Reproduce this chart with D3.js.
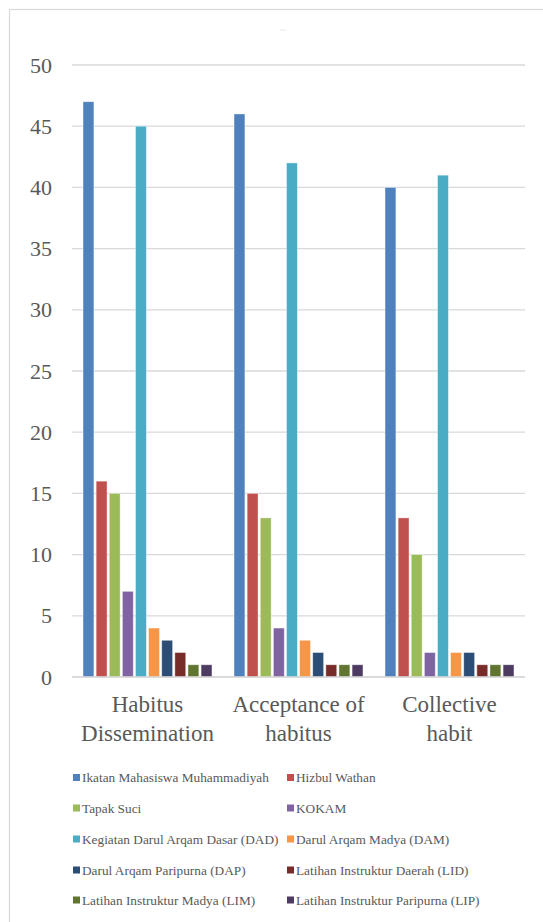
<!DOCTYPE html>
<html><head><meta charset="utf-8">
<script src="https://cdn.jsdelivr.net/npm/d3@7"></script>
<style>html,body{margin:0;padding:0;background:#fff;overflow:hidden}
svg text{font-family:"Liberation Serif","Times New Roman",Times,"DejaVu Serif",serif;}</style>
</head><body>
<svg id="c" width="543" height="922"></svg>
<script>
const categories = [["Habitus","Dissemination"],["Acceptance of","habitus"],["Collective","habit"]];
const seriesNames = ["Ikatan Mahasiswa Muhammadiyah","Hizbul Wathan","Tapak Suci","KOKAM","Kegiatan Darul Arqam Dasar (DAD)","Darul Arqam Madya (DAM)","Darul Arqam Paripurna (DAP)","Latihan Instruktur Daerah (LID)","Latihan Instruktur Madya (LIM)","Latihan Instruktur Paripurna (LIP)"];
const habitusDissemination = [47,16,15,7,45,4,3,2,1,1];
const acceptanceOfHabitus = [46,15,13,4,42,3,2,1,1,1];
const collectiveHabit = [40,13,10,2,41,2,2,1,1,1];
const yTicks = [0,5,10,15,20,25,30,35,40,45,50];
const colors = ["#4F81BD","#C0504D","#9BBB59","#8064A2","#4BACC6","#F79646","#2C4D75","#772C2A","#5F7530","#4D3B62"];

const values = [habitusDissemination, acceptanceOfHabitus, collectiveHabit];
const svg = d3.select("#c");
const textColor = "#595959";

// outer border
svg.append("rect").attr("x",9.5).attr("y",9.5).attr("width",600).attr("height",1000)
  .attr("fill","none").attr("stroke","#d9d9d9").attr("stroke-width",1.2);

// tiny title
svg.append("text").attr("x",283).attr("y",32).attr("text-anchor","middle")
  .attr("font-size",4).attr("fill","#888").text("~~~");

const plotLeft = 72, plotRight = 525, plotTop = 65, plotBottom = 677;
const y = d3.scaleLinear().domain([0,50]).range([plotBottom, plotTop]);
const x0 = d3.scaleBand().domain(d3.range(categories.length)).range([plotLeft,plotRight]).paddingInner(0.146).paddingOuter(0.073);
const x1 = d3.scaleBand().domain(d3.range(seriesNames.length)).range([0,x0.bandwidth()]).paddingInner(0.17).paddingOuter(0);

// gridlines
svg.append("g").selectAll("line").data(yTicks).join("line")
  .attr("x1",plotLeft).attr("x2",plotRight).attr("y1",d=>y(d)).attr("y2",d=>y(d))
  .attr("stroke","#d9d9d9").attr("stroke-width",1.3);

// y labels
svg.append("g").selectAll("text").data(yTicks).join("text")
  .attr("x",52).attr("y",d=>y(d)+7.5).attr("text-anchor","end")
  .attr("font-size",22).attr("fill",textColor).text(d=>d);

// bars
const groups = svg.append("g").selectAll("g").data(values).join("g")
  .attr("transform",(d,i)=>`translate(${x0(i)},0)`);
groups.selectAll("rect").data(d=>d).join("rect")
  .attr("x",(d,j)=>x1(j)).attr("width",x1.bandwidth())
  .attr("y",d=>y(d)).attr("height",d=>y(0)-y(d))
  .attr("fill",(d,j)=>colors[j]).attr("stroke","#ffffff").attr("stroke-opacity",0.5).attr("stroke-width",0.8);

// axis line
svg.append("line").attr("x1",plotLeft).attr("x2",plotRight).attr("y1",plotBottom).attr("y2",plotBottom)
  .attr("stroke","#d9d9d9").attr("stroke-width",1.3);

// category labels
const cl = svg.append("g").selectAll("text").data(categories).join("text")
  .attr("text-anchor","middle").attr("font-size",23).attr("fill",textColor);
cl.each(function(d,i){
  const t = d3.select(this);
  const cx = x0(i)+x0.bandwidth()/2;
  d.forEach((line,k)=>{
    t.append("tspan").attr("x",cx).attr("y",712+k*29).text(line);
  });
});

// legend
const legend = svg.append("g");
const colX = [73, 287];
const rowY = [777.5, 808, 839, 870, 900];
seriesNames.forEach((name,i)=>{
  const cx = colX[i%2], cy = rowY[Math.floor(i/2)];
  legend.append("rect").attr("x",cx).attr("y",cy-3.5).attr("width",7).attr("height",7).attr("fill",colors[i]);
  legend.append("text").attr("x",cx+9).attr("y",cy+4.5).attr("font-size",13.3)
    .attr("fill",textColor).text(name);
});
</script>
</body></html>
